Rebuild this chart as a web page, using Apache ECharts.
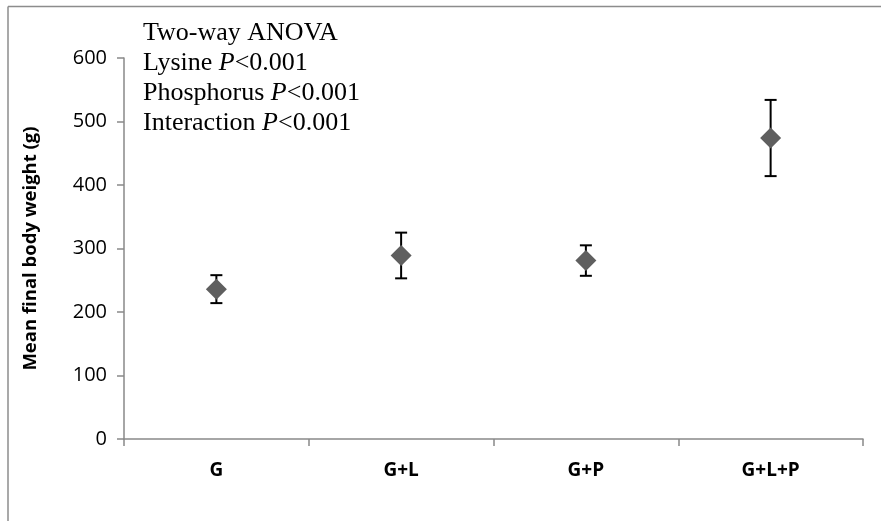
<!DOCTYPE html>
<html>
<head>
<meta charset="utf-8">
<script src="https://cdn.jsdelivr.net/npm/echarts@6/dist/echarts.min.js"></script>
<style>
html, body { margin: 0; padding: 0; background: #fff; }
#Chart { width: 881px; height: 521px; }
</style>
</head>
<body>
<div id="Chart"></div>
<script>
// data
var groups = ['G', 'G+L', 'G+P', 'G+L+P'];
var meanWeight = [236, 289, 281, 474];
var errWeight = [22, 36, 24, 60];
var yTicks = [0, 100, 200, 300, 400, 500, 600];
var notes = ['Two-way ANOVA', 'Lysine ', 'Phosphorus ', 'Interaction '];
var pText = ['', 'P', 'P', 'P'];
var pValue = ['', '<0.001', '<0.001', '<0.001'];

var axisColor = '#898989';
var markColor = '#5f5f5f';

var myChart = echarts.init(document.getElementById('Chart'));

var errData = [];
for (var i = 0; i < groups.length; i++) {
    errData.push([i, meanWeight[i] - errWeight[i], meanWeight[i] + errWeight[i]]);
}

var noteLines = [];
for (var j = 0; j < notes.length; j++) {
    noteLines.push(notes[j] + (pText[j] ? '{i|' + pText[j] + '}' + pValue[j] : ''));
}

var option = {
    backgroundColor: '#fff',
    animation: false,
    grid: {
        left: 124,
        right: 18,
        top: 58,
        bottom: 82
    },
    xAxis: {
        type: 'category',
        data: groups,
        boundaryGap: true,
        axisLine: { lineStyle: { color: axisColor, width: 1.5 } },
        axisTick: { show: true, length: 7, lineStyle: { color: axisColor, width: 1.5 } },
        axisLabel: {
            margin: 22,
            color: '#000',
            fontFamily: 'Open Sans',
            fontWeight: 'bold',
            fontSize: 19
        }
    },
    yAxis: {
        type: 'value',
        min: yTicks[0],
        max: yTicks[yTicks.length - 1],
        interval: 100,
        name: 'Mean final body weight (g)',
        nameLocation: 'middle',
        nameGap: 84,
        nameTextStyle: {
            color: '#000',
            fontFamily: 'Open Sans',
            fontWeight: 'bold',
            fontSize: 18.5
        },
        axisLine: { show: true, lineStyle: { color: axisColor, width: 1.5 } },
        axisTick: { show: true, length: 7, lineStyle: { color: axisColor, width: 1.5 } },
        splitLine: { show: false },
        axisLabel: {
            margin: 17,
            color: '#000',
            fontFamily: 'Open Sans',
            fontSize: 20
        }
    },
    graphic: [
        {
            type: 'line',
            shape: { x1: 8, y1: 6.5, x2: 881, y2: 6.5 },
            style: { stroke: '#8c8c8c', lineWidth: 1.5 }
        },
        {
            type: 'line',
            shape: { x1: 8, y1: 6.5, x2: 8, y2: 521 },
            style: { stroke: '#8c8c8c', lineWidth: 1.5 }
        },
        {
            type: 'text',
            left: 143,
            top: 18,
            style: {
                text: noteLines.join('\n'),
                fontFamily: 'Liberation Serif',
                fontSize: 26,
                lineHeight: 30,
                fill: '#000',
                rich: {
                    i: {
                        fontFamily: 'Liberation Serif',
                        fontStyle: 'italic',
                        fontSize: 26,
                        lineHeight: 30
                    }
                }
            }
        }
    ],
    series: [
        {
            type: 'custom',
            data: errData,
            z: 2,
            renderItem: function (params, api) {
                var x = api.value(0);
                var lo = api.coord([x, api.value(1)]);
                var hi = api.coord([x, api.value(2)]);
                var w = 6;
                var st = { stroke: '#000', lineWidth: 2 };
                return {
                    type: 'group',
                    children: [
                        { type: 'line', shape: { x1: hi[0], y1: hi[1], x2: lo[0], y2: lo[1] }, style: st },
                        { type: 'line', shape: { x1: hi[0] - w, y1: hi[1], x2: hi[0] + w, y2: hi[1] }, style: st },
                        { type: 'line', shape: { x1: lo[0] - w, y1: lo[1], x2: lo[0] + w, y2: lo[1] }, style: st }
                    ]
                };
            }
        },
        {
            type: 'scatter',
            data: meanWeight,
            symbol: 'diamond',
            symbolSize: [21, 21],
            z: 3,
            itemStyle: { color: markColor, opacity: 1 }
        }
    ]
};
myChart.setOption(option);
window.addEventListener('resize', function () {
    myChart.resize();
});
</script>
</body>
</html>
